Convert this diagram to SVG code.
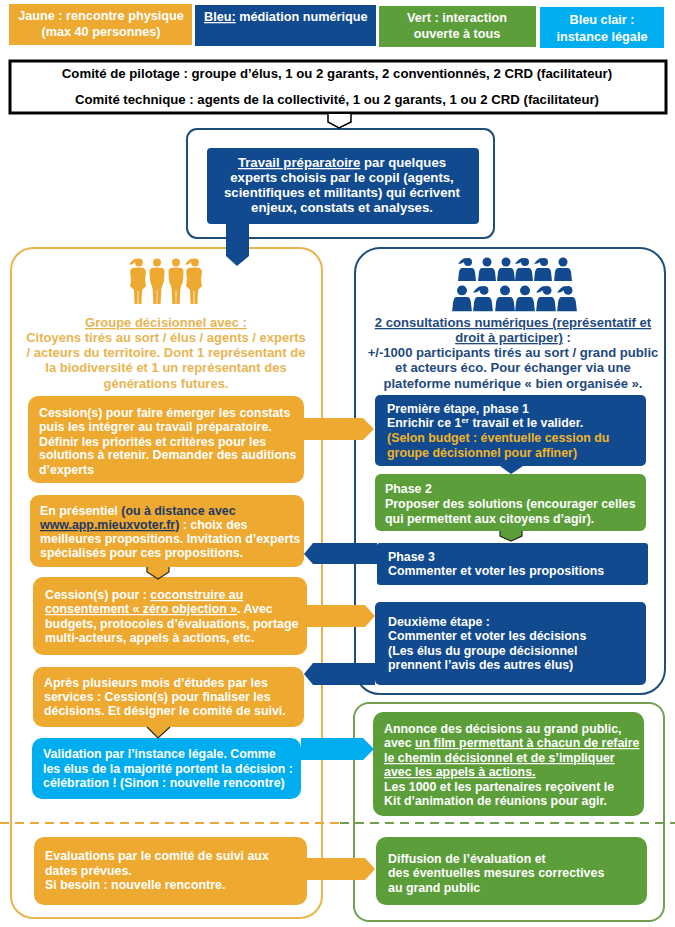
<svg xmlns="http://www.w3.org/2000/svg" width="675" height="927" viewBox="0 0 675 927">
<style>
text{font-family:"Liberation Sans",Arial,sans-serif;font-weight:700;font-size:12.400px;fill:#fff}
.c{text-anchor:middle}
.k{fill:#000;font-size:13.200px}
.lg{font-size:12.700px}
.pr{font-size:13.200px}
.yt{fill:#E8B552;font-size:13px}
.bt{fill:#1F4A7E;font-size:13.100px}
.nv{fill:#1F3864}
.gd{fill:#F0B429}
.u{text-decoration:underline}
.y{fill:#EDA930}.b{fill:#114A8F}.g{fill:#5C9E3A}.l{fill:#00AEEF}
.cy{fill:none;stroke:#E9B44C;stroke-width:2}
.cb{fill:none;stroke:#1F4E79;stroke-width:2}
.cg{fill:none;stroke:#70A050;stroke-width:2}
.edge{stroke:#2A2A1A;stroke-width:1.2;fill:none}
</style>
<defs>
<g id="woman"><circle cx="1" cy="4.500" r="3.900"/><path d="M-2 3C-4 6-7 7-9 6.500C-7 3.500-4 .5-1 .5Z"/><path d="M-6 10Q0 9 6 10L8 13L7 22L8 28L4 32L3.500 46H.4V33H-.4V46H-3.500L-4 32L-8 28L-7 22L-8 13Z"/></g>
<g id="man"><circle cx="0" cy="4.500" r="4"/><path d="M-5 10Q0 9 5 10Q7.500 10.500 7.500 14L7 23L4.500 30L3.500 46H.3V32H-.3V46H-3.500L-4.500 30L-7 23L-7.500 14Q-7.500 10.500-5 10Z"/></g>
<g id="bw"><circle cx="1" cy="4" r="4"/><path d="M-1 2C-3 5-7 6-9 6C-7 3-4 0-1 0Z"/><path d="M-5 10H5Q7 10 8 14L9 23H-9L-8 14Q-7 10-5 10Z"/></g>
<g id="bm"><circle cx="0" cy="4" r="4.500"/><path d="M-5 10H5Q7 10 8 14L9 23H-9L-8 14Q-7 10-5 10Z"/></g>
</defs>

<g id="legend-jaune"><rect class="y" x="9" y="4" width="183" height="41"/><text class="c lg" x="101" y="20">Jaune : rencontre physique</text><text class="c lg" x="101" y="36">(max 40 personnes)</text></g>
<g id="legend-bleu"><rect class="b" x="195" y="5" width="181" height="41"/><text class="lg" x="204" y="21"><tspan class="u">Bleu:</tspan> médiation numérique</text></g>
<g id="legend-vert"><rect class="g" x="379" y="6" width="157" height="41"/><text class="c lg" x="457" y="22">Vert : interaction</text><text class="c lg" x="457" y="38">ouverte à tous</text></g>
<g id="legend-bleu-clair"><rect class="l" x="540" y="7" width="124" height="41"/><text class="c lg" x="602" y="24">Bleu clair :</text><text class="c lg" x="602" y="41">instance légale</text></g>

<g id="comites"><rect x="10" y="61" width="656" height="52" fill="#fff" stroke="#000" stroke-width="3"/>
<text class="c k" x="337" y="78">Comité de pilotage : groupe d’élus, 1 ou 2 garants, 2 conventionnés, 2 CRD (facilitateur)</text>
<text class="c k" x="337" y="104">Comité technique : agents de la collectivité, 1 ou 2 garants, 1 ou 2 CRD (facilitateur)</text></g>

<g id="travail-cadre"><rect class="cb" x="187" y="129" width="307" height="109" rx="10"/></g>
<g id="travail"><rect class="b" x="207" y="148" width="272" height="76" rx="4"/>
<text class="c pr" x="342" y="167"><tspan class="u">Travail préparatoire</tspan> par quelques</text>
<text class="c pr" x="342" y="182">experts choisis par le copil (agents,</text>
<text class="c pr" x="342" y="197">scientifiques et militants) qui écrivent</text>
<text class="c pr" x="342" y="212">enjeux, constats et analyses.</text></g>

<g id="groupe-decisionnel"><rect class="cy" x="11" y="248" width="311" height="670" rx="22"/>
<g class="y"><use href="#woman" x="138" y="258"/><use href="#man" x="157" y="258"/><use href="#man" x="176" y="258"/><use href="#woman" x="194" y="258"/></g>
<text class="c yt" x="166" y="327"><tspan class="u yt">Groupe décisionnel avec :</tspan></text>
<text class="c yt" x="166" y="342">Citoyens tirés au sort / élus / agents / experts</text>
<text class="c yt" x="166" y="357">/ acteurs du territoire. Dont 1 représentant de</text>
<text class="c yt" x="166" y="372">la biodiversité et 1 un représentant des</text>
<text class="c yt" x="166" y="388">générations futures.</text></g>

<g id="consultations"><rect class="cb" x="355" y="248" width="310" height="446" rx="25"/>
<g class="b"><use href="#bw" x="467" y="258"/><use href="#bm" x="487" y="258"/><use href="#bm" x="506" y="258"/><use href="#bw" x="524" y="258"/><use href="#bw" x="543" y="258"/><use href="#bm" x="563" y="258"/>
<use href="#bm" transform="translate(462 286) scale(1.100)"/><use href="#bw" transform="translate(483 286) scale(1.100)"/><use href="#bm" transform="translate(505 286) scale(1.100)"/><use href="#bm" transform="translate(525 286) scale(1.100)"/><use href="#bw" transform="translate(546 286) scale(1.100)"/><use href="#bw" transform="translate(567 286) scale(1.100)"/></g>
<text class="c bt" x="513" y="327"><tspan class="u bt">2 consultations numériques (représentatif et</tspan></text>
<text class="c bt" x="513" y="342"><tspan class="u bt">droit à participer)</tspan> :</text>
<text class="c bt" x="513" y="357">+/-1000 participants tirés au sort / grand public</text>
<text class="c bt" x="513" y="372">et acteurs éco. Pour échanger via une</text>
<text class="c bt" x="513" y="388">plateforme numérique « bien organisée ».</text></g>

<g id="cession-constats"><rect class="y" x="28" y="396" width="276" height="87" rx="10"/>
<text x="39" y="417">Cession(s) pour faire émerger les constats</text>
<text x="39" y="431">puis les intégrer au travail préparatoire.</text>
<text x="39" y="446">Définir les priorités et critères pour les</text>
<text x="39" y="459">solutions à retenir. Demander des auditions</text>
<text x="39" y="474">d’experts</text></g>

<g id="presentiel"><rect class="y" x="30" y="495" width="274" height="72" rx="9"/>
<text x="40" y="515">En présentiel <tspan class="nv">(ou à distance avec</tspan></text>
<text x="40" y="529"><tspan class="nv u">www.app.mieuxvoter.fr</tspan><tspan class="nv">)</tspan> : choix des</text>
<text x="40" y="543">meilleures propositions. Invitation d’experts</text>
<text x="40" y="557">spécialisés pour ces propositions.</text></g>

<g id="cession-coconstruire"><rect class="y" x="33" y="577" width="274" height="78" rx="10"/>
<text x="45" y="599">Cession(s) pour : <tspan class="u">coconstruire au</tspan></text>
<text x="45" y="613"><tspan class="u">consentement « zéro objection »</tspan>. Avec</text>
<text x="45" y="628">budgets, protocoles d’évaluations, portage</text>
<text x="45" y="642">multi-acteurs, appels à actions, etc.</text></g>

<g id="cession-finaliser"><rect class="y" x="33" y="667" width="271" height="60" rx="10"/>
<text x="44" y="687">Après plusieurs mois d’études par les</text>
<text x="44" y="701">services : Cession(s) pour finaliser les</text>
<text x="44" y="715">décisions. Et désigner le comité de suivi.</text></g>

<g id="validation"><rect class="l" x="32" y="738" width="269" height="61" rx="10"/>
<text x="43" y="758">Validation par l’instance légale. Comme</text>
<text x="43" y="773">les élus de la majorité portent la décision :</text>
<text x="43" y="787">célébration ! (Sinon : nouvelle rencontre)</text></g>

<g id="evaluations"><rect class="y" x="34" y="837" width="273" height="68" rx="10"/>
<text x="45" y="860">Evaluations par le comité de suivi aux</text>
<text x="45" y="875">dates prévues.</text>
<text x="45" y="889">Si besoin : nouvelle rencontre.</text></g>

<g id="phase-1"><rect class="b" x="375" y="395" width="271" height="71" rx="5"/>
<text x="387" y="413">Première étape, phase 1</text>
<text x="387" y="427">Enrichir ce 1<tspan font-size="8" dy="-4">er</tspan><tspan dy="4"> travail et le valider.</tspan></text>
<text class="gd" x="387" y="442">(Selon budget : éventuelle cession du</text>
<text class="gd" x="387" y="457">groupe décisionnel pour affiner)</text></g>

<g id="phase-2"><rect class="g" x="375" y="474" width="271" height="57" rx="6"/>
<text x="385" y="493">Phase 2</text>
<text x="385" y="508">Proposer des solutions (encourager celles</text>
<text x="385" y="523">qui permettent aux citoyens d’agir).</text></g>

<g id="phase-3"><rect class="b" x="377" y="543" width="271" height="42" rx="3"/>
<text x="388" y="561">Phase 3</text>
<text x="388" y="575">Commenter et voter les propositions</text></g>

<g id="deuxieme-etape"><rect class="b" x="375" y="602" width="271" height="83" rx="5"/>
<text x="388" y="626">Deuxième étape :</text>
<text x="388" y="640">Commenter et voter les décisions</text>
<text x="388" y="655">(Les élus du groupe décisionnel</text>
<text x="388" y="669">prennent l’avis des autres élus)</text></g>

<g id="publics-cadre"><rect class="cg" x="354" y="703" width="310" height="218" rx="15"/></g>

<g id="annonce"><rect class="g" x="373" y="712" width="271" height="104" rx="10"/>
<text x="384" y="733">Annonce des décisions au grand public,</text>
<text x="384" y="747">avec <tspan class="u">un film permettant à chacun de refaire</tspan></text>
<text x="384" y="762"><tspan class="u">le chemin décisionnel et de s’impliquer</tspan></text>
<text x="384" y="776"><tspan class="u">avec les appels à actions.</tspan></text>
<text x="384" y="791">Les 1000 et les partenaires reçoivent le</text>
<text x="384" y="805">Kit d’animation de réunions pour agir.</text></g>

<g id="diffusion"><rect class="g" x="376" y="837" width="271" height="68" rx="10"/>
<text x="388" y="863">Diffusion de l’évaluation et</text>
<text x="388" y="877">des éventuelles mesures correctives</text>
<text x="388" y="892">au grand public</text></g>

<g id="connectors">
<path d="M328 114V122L339 128L351 122V114" fill="#fff" stroke="#000" stroke-width="1.500"/>
<path class="b" d="M226 224H249V256L237 266L226 256Z"/>
<path class="y" d="M304 418H363L374 429L363 440H304Z"/>
<path class="y" d="M307 605H365L375 616L365 627H307Z"/>
<path class="l" d="M290 738H363L374 749L363 760H301V738Z"/>
<path class="y" d="M307 858H365L375 869L365 880H307Z"/>
<path class="b" d="M377 543V564H313L304 554L313 543Z"/>
<path class="b" d="M375 663V685H313L304 674L313 663Z"/>
<path class="y" d="M147 567V572L158 579L169 572V567Z"/><path class="edge" d="M147 567V572L158 579L169 572V567"/>
<path class="y" d="M147 727L158 738L170 727Z"/><path class="edge" d="M147 727L158 738L170 727"/>
<path class="b" d="M500 466L511 474L523 466Z"/>
<path class="g" d="M500 531V536L511 541L522 536V531Z"/><path class="edge" d="M500 531V536L511 541L522 536V531"/>
<path d="M0 823H340" stroke="#E9A83C" stroke-width="2" stroke-dasharray="9 6" fill="none"/>
<path d="M340 823H675" stroke="#70A050" stroke-width="2" stroke-dasharray="9 6" fill="none"/>
</g>
</svg>
